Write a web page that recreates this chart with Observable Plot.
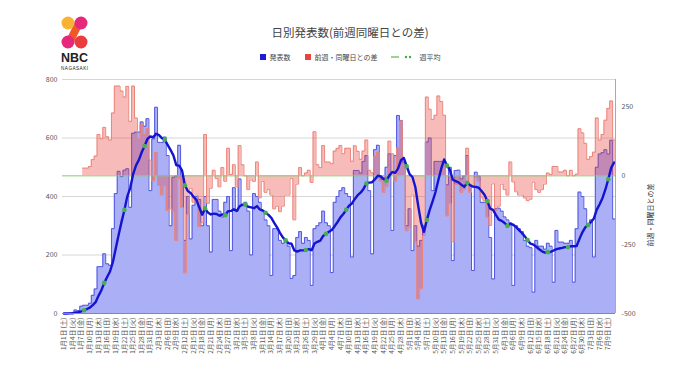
<!DOCTYPE html>
<html><head><meta charset="utf-8">
<script src="https://cdn.jsdelivr.net/npm/d3@7"></script>
<script src="https://cdn.jsdelivr.net/npm/@observablehq/plot@0.6"></script>
<style>
body{margin:0;background:#fff;font-family:"Noto Sans CJK JP","Noto Sans",sans-serif;}
#wrap{position:relative;width:680px;height:382px;overflow:hidden;}
#chart{position:absolute;left:0;top:0;}
#title{position:absolute;top:24px;left:190px;width:320px;text-align:center;font-size:11.5px;color:#444;}
#legend{position:absolute;top:52px;left:190px;width:320px;display:flex;justify-content:center;align-items:center;font-size:7px;color:#444;gap:4px;}
.sw{display:inline-block;width:6px;height:6px;}
#rlabel{position:absolute;left:650px;top:215px;font-size:7px;color:#333;transform:translate(-50%,-50%) rotate(-90deg);white-space:nowrap;}
#logo{position:absolute;left:58px;top:14px;}
</style></head>
<body><div id="wrap">
<div id="chart"></div>
<svg id="logo" width="36" height="62" viewBox="0 0 36 62">
  <line x1="21" y1="9" x2="12" y2="27" stroke="#f0582a" stroke-width="8" stroke-linecap="round"/>
  <circle cx="10" cy="9" r="6.5" fill="#f9b233"/>
  <circle cx="23" cy="9" r="6.5" fill="#e6287d"/>
  <circle cx="10" cy="28" r="6.5" fill="#e6287d"/>
  <circle cx="23" cy="28" r="6.5" fill="#ea3c3c"/>
  <text x="3" y="48" font-family="Liberation Sans, Arial, sans-serif" font-size="13" font-weight="bold" fill="#222" textLength="27" lengthAdjust="spacingAndGlyphs">NBC</text>
  <text x="3" y="56" font-family="Liberation Sans, Arial, sans-serif" font-size="4.6" fill="#222" textLength="27">NAGASAKI</text>
</svg>
<div id="title">日別発表数(前週同曜日との差)</div>
<div id="legend">
  <span class="sw" style="background:#1c1cd6"></span><span>発表数</span>
  <span style="width:6px"></span>
  <span class="sw" style="background:#e8453c"></span><span>前週・同曜日との差</span>
  <span style="width:6px"></span>
  <svg width="24" height="6"><line x1="0" y1="3" x2="8" y2="3" stroke="#7dc36b" stroke-width="1.5"/><circle cx="15" cy="3" r="1.2" fill="#3cae47"/><circle cx="19" cy="3" r="1.2" fill="#3cae47"/></svg>
  <span>週平均</span>
</div>
<div id="rlabel">前週・同曜日との差</div>
</div>
<script>
// 日別発表数 (2022/1/1 〜 7/11)
const daily = [
  0,0,1,3,12,10,25,28,28,35,
  62,84,160,160,204,170,165,290,410,486,
  468,490,495,363,616,620,620,655,640,666,
  420,597,705,585,585,603,540,300,466,470,
  575,470,250,400,255,370,400,390,300,400,
  300,210,390,390,350,330,380,400,215,430,
  350,460,370,380,350,200,410,400,380,350,
  320,300,130,290,290,250,240,250,230,120,
  130,260,280,240,260,250,96,290,300,310,
  350,310,300,140,380,400,420,430,410,400,
  193,489,489,480,520,540,420,204,560,575,
  460,460,500,546,284,540,677,660,517,300,
  358,215,300,230,250,300,586,600,420,520,
  520,520,520,440,500,181,489,490,460,470,
  540,440,147,483,470,380,380,390,260,118,
  358,360,350,330,320,310,96,300,290,280,
  250,230,225,73,250,230,230,220,240,230,
  107,284,244,244,240,240,250,107,290,415,
  400,358,300,320,193,500,545,550,560,545,
  592,323
];
// 前週・同曜日との差
const weekDiff = [
  null,null,null,null,null,null,null,28,28,34,
  59,72,150,135,176,142,130,228,326,326,
  308,286,325,198,326,210,134,187,150,171,
  57,-19,85,-35,-70,-37,-126,-120,-131,-235,
  -10,-115,-353,-140,-45,-96,-70,-185,-170,150,
  -100,-45,20,-10,-40,30,-20,100,5,40,
  -40,110,40,0,-50,-15,-20,50,-80,-20,
  -60,-50,-70,-120,-110,-130,-110,-70,-70,-10,
  -160,-30,30,0,10,20,-24,160,40,30,
  110,50,50,44,90,100,110,80,100,100,
  53,109,89,60,90,130,20,11,71,86,
  -20,-60,-40,126,80,-20,102,200,57,-200,
  -188,-69,-240,-447,-410,-217,286,242,205,220,
  290,270,220,-146,-100,-239,-31,-30,-60,-50,
  100,-60,-34,-6,-20,-80,-90,-150,-180,-29,
  -125,-110,-30,-50,-70,50,-22,-58,-70,-70,
  -80,-90,-85,-23,-50,-60,-50,-30,10,5,
  34,34,14,14,20,0,20,0,6,171,
  156,118,60,70,86,210,130,150,202,245,
  272,130
];
const startDate = new Date(2022, 0, 1);
const weekdayNames = ["日","月","火","水","木","金","土"];
const leftTicks = [0, 200, 400, 600, 800];
const rightTicks = [-500, -250, 0, 250];
const rightDomain = [-500, 350];

const dates = d3.timeDay.range(startDate, d3.timeDay.offset(startDate, daily.length));
const dayLabels = dates.map(d => `${d.getMonth()+1}月${d.getDate()}日 (${weekdayNames[d.getDay()]})`);
const n = daily.length;
// right-axis value -> left-axis units
const R = r => (r - rightDomain[0]) * 800 / (rightDomain[1] - rightDomain[0]);
const Rinv = t => Math.round(t * (rightDomain[1] - rightDomain[0]) / 800 + rightDomain[0]);

const rows = daily.map((v, i) => ({i, v, diff: weekDiff[i]}));
const stepRows = rows.concat([{i: n, v: daily[n - 1], diff: weekDiff[n - 1]}]);
const redRows = stepRows.filter(d => d.diff != null);

const chart = Plot.plot({
  width: 680, height: 382,
  marginLeft: 62, marginRight: 65, marginTop: 79, marginBottom: 69,
  x: {domain: [0, n]},
  y: {domain: [0, 800], label: null},
  r: {type: "identity"},
  style: {fontFamily: "'Noto Sans CJK JP', sans-serif", fontSize: "7px", color: "#555", background: "transparent"},
  marks: [
    Plot.gridY(leftTicks.slice(1), {stroke: "#d6d6d6", strokeOpacity: 1}),
    Plot.areaY(stepRows, {x: "i", y: "v", curve: "step-after", fill: "#abaff6"}),
    Plot.lineY(stepRows, {x: "i", y: "v", curve: "step-after", stroke: "#5058e0", strokeWidth: 1}),
    Plot.areaY(redRows, {x: "i", y1: R(0), y2: d => R(d.diff), curve: "step-after", fill: "#e8453c", fillOpacity: 0.36}),
    Plot.lineY(redRows, {x: "i", y: d => R(d.diff), curve: "step-after", stroke: "#ec857a", strokeWidth: 1}),
    Plot.ruleY([R(0)], {stroke: "#86c874", strokeWidth: 1}),
    Plot.lineY(rows, Plot.windowY({k: 7, anchor: "end"}, {x: d => d.i + 0.5, y: "v", stroke: "#1414d0", strokeWidth: 2.4})),
    Plot.dot(rows, Plot.windowY({k: 7, anchor: "end"}, {x: d => d.i + 0.5, y: "v", r: d => (d.i > 0 && d.i % 7 === 0 ? 2.3 : 0), fill: "#45b04e"})),
    Plot.ruleY([0], {stroke: "#888"}),
    Plot.ruleX([n], {stroke: "#aaa"}),
    Plot.axisY(leftTicks, {tickSize: 0, tickPadding: 5, label: null, fontSize: 7, fill: "#555"}),
    Plot.axisY(rightTicks.map(R), {anchor: "right", tickSize: 0, tickPadding: 6, label: null, fontSize: 7, fill: "#555", tickFormat: t => String(Rinv(t))}),
    Plot.axisX(d3.range(0, n - 2, 3).map(i => i + 0.5), {tickRotate: -90, tickSize: 0, tickPadding: 4, label: null, fontSize: 6.5, fill: "#555", tickFormat: t => dayLabels[Math.floor(t)]})
  ]
});
document.getElementById("chart").appendChild(chart);
</script>
</body></html>
